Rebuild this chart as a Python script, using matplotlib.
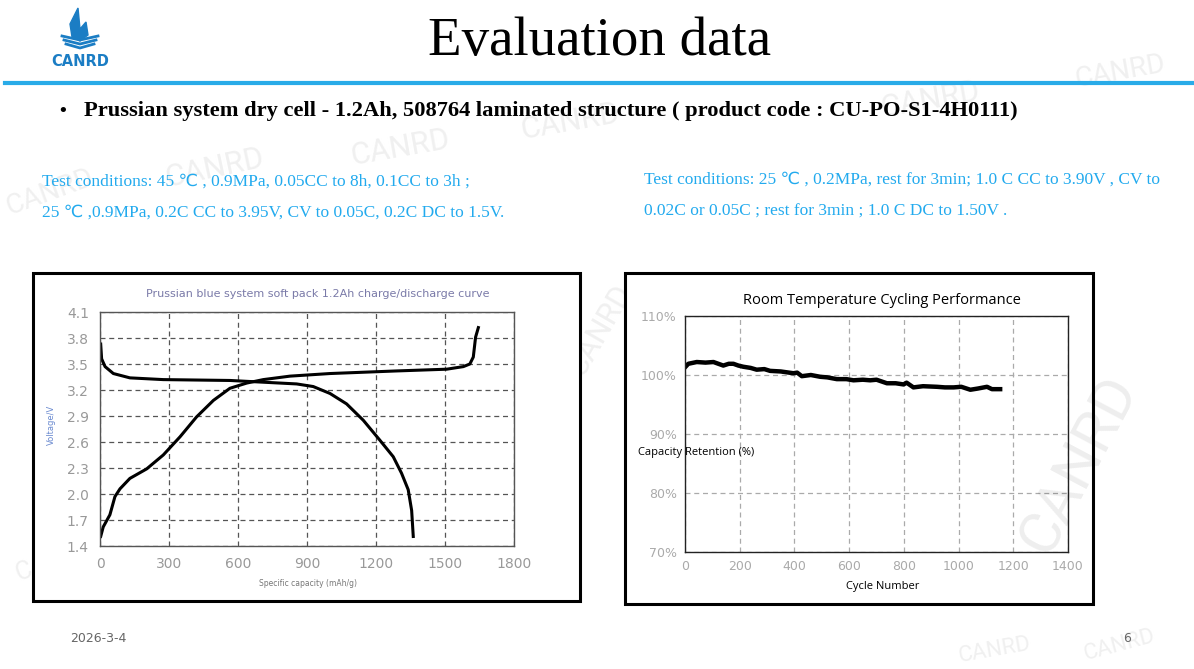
import numpy as np
import matplotlib.pyplot as plt
from matplotlib.patches import Rectangle, Polygon

# ---------------- data ----------------
charge_cap = [3, 14, 43, 65, 87, 130, 203, 275, 348, 420, 493, 565, 638, 710, 826,
              1000, 1290, 1507, 1580, 1608, 1623, 1633, 1645]
charge_v = [1.51, 1.62, 1.76, 1.97, 2.06, 2.18, 2.29, 2.45, 2.66, 2.89, 3.08, 3.22,
            3.28, 3.32, 3.36, 3.39, 3.42, 3.44, 3.47, 3.50, 3.58, 3.81, 3.92]
discharge_cap = [3, 7, 22, 58, 130, 275, 565, 710, 855, 927, 1000, 1072, 1145, 1217,
                 1275, 1311, 1340, 1355, 1362]
discharge_v = [3.73, 3.56, 3.47, 3.39, 3.34, 3.32, 3.31, 3.29, 3.27, 3.24, 3.16, 3.04,
               2.85, 2.62, 2.43, 2.24, 2.05, 1.81, 1.51]

cycles = [2, 12, 43, 75, 104, 128, 140, 160, 177, 195, 213, 240, 262, 290, 311, 350,
          396, 410, 427, 460, 494, 520, 555, 590, 616, 650, 677, 700, 738, 770, 799,
          810, 835, 870, 921, 950, 982, 1010, 1043, 1070, 1104, 1122, 1152]
retention = [101.4, 101.9, 102.2, 102.1, 102.2, 101.8, 101.6, 101.9, 101.9, 101.6,
             101.4, 101.2, 100.9, 101.0, 100.7, 100.6, 100.3, 100.4, 99.8, 100.0, 99.7,
             99.6, 99.3, 99.3, 99.1, 99.2, 99.1, 99.2, 98.6, 98.6, 98.4, 98.7, 97.9,
             98.1, 98.0, 97.9, 97.9, 98.0, 97.5, 97.7, 98.0, 97.6, 97.6]

v_ticks = [1.4, 1.7, 2.0, 2.3, 2.6, 2.9, 3.2, 3.5, 3.8, 4.1]
cap_ticks = [0, 300, 600, 900, 1200, 1500, 1800]
cyc_ticks = [0, 200, 400, 600, 800, 1000, 1200, 1400]
ret_ticks = [70, 80, 90, 100, 110]

W, H = 1194, 669
BLUE = '#22aaee'
SERIF = ['Liberation Serif', 'DejaVu Sans']


def box(x0, y0, x1, y1):
    # pixel box (top-left origin) -> figure fraction rect
    return [x0 / W, 1 - y1 / H, (x1 - x0) / W, (y1 - y0) / H]


def fx(x):
    return x / W


def fy(y):
    return 1 - y / H


fig = plt.figure(figsize=(W / 100, H / 100), dpi=100)
fig.patch.set_facecolor('white')

# watermarks
wm = [(215, 168, 12, 22), (400, 148, 10, 22), (570, 122, 10, 22), (50, 192, 20, 20),
      (1120, 72, 10, 20), (930, 100, 10, 22), (995, 650, 10, 16),
      (1120, 645, 15, 16), (55, 560, 20, 18), (600, 330, 60, 22)]
for x, y, r, s in wm:
    fig.text(fx(x), fy(y), 'CANRD', fontsize=s, color='#f0f0f0', rotation=r,
             ha='center', va='center', family='Roboto', zorder=0)
# big watermark over the right chart
fig.text(fx(1080), fy(465), 'CANRD', fontsize=42, color='#000000', alpha=0.07,
         rotation=62, ha='center', va='center', family='Roboto', zorder=5)

# header
fig.text(fx(600), fy(42), 'Evaluation data', fontsize=39.5, family=SERIF,
         ha='center', va='center')
fig.add_artist(plt.Line2D([fx(5), fx(1194)], [fy(83), fy(83)], color='#29abe8', lw=3))
fig.text(fx(80), fy(62), 'CANRD', fontsize=10.5, weight='bold', color='#1b7dc4',
         ha='center', va='center', family='DejaVu Sans')
# simple logo flame
fig.add_artist(Polygon([(fx(78), fy(8)), (fx(70), fy(24)), (fx(72), fy(37)), (fx(80), fy(41)),
                        (fx(88), fy(35)), (fx(86), fy(22)), (fx(80), fy(29))],
                       closed=True, color='#1b7dc4', transform=fig.transFigure))
for i, yy in enumerate([40, 44, 48]):
    fig.add_artist(plt.Line2D([fx(62 + i * 2), fx(80), fx(98 - i * 2)],
                              [fy(yy - 4), fy(yy), fy(yy - 4)], color='#1b7dc4', lw=2))

fig.text(fx(57), fy(111), '•', fontsize=13, ha='left', va='center')
fig.text(fx(84), fy(111), 'Prussian system dry cell - 1.2Ah, 508764 laminated structure ( product code : CU-PO-S1-4H0111)',
         fontsize=16.2, weight='bold', family=SERIF, ha='left', va='center')

fig.text(fx(42), fy(182), 'Test conditions: 45 \u2103 , 0.9MPa, 0.05CC to 8h, 0.1CC to 3h ;',
         fontsize=12.5, color=BLUE, family=SERIF, ha='left', va='center')
fig.text(fx(42), fy(213), '25 \u2103 ,0.9MPa, 0.2C CC to 3.95V, CV to 0.05C, 0.2C DC to 1.5V.',
         fontsize=12.5, color=BLUE, family=SERIF, ha='left', va='center')
fig.text(fx(644), fy(180), 'Test conditions: 25 \u2103 , 0.2MPa, rest for 3min; 1.0 C CC to 3.90V , CV to',
         fontsize=12.5, color=BLUE, family=SERIF, ha='left', va='center')
fig.text(fx(644), fy(212), '0.02C or 0.05C ; rest for 3min ; 1.0 C DC to 1.50V .',
         fontsize=12.5, color=BLUE, family=SERIF, ha='left', va='center')

fig.text(fx(70), fy(638), '2026-3-4', fontsize=9, color='#666666', ha='left', va='center')
fig.text(fx(1127), fy(638), '6', fontsize=9, color='#666666', ha='center', va='center')

# outer frames (white inside, covering the watermarks)
for x0, y0, x1, y1 in [(33, 273, 580, 601), (625, 273, 1093, 604)]:
    fig.add_artist(Rectangle((fx(x0), fy(y1)), fx(x1 - x0), (y1 - y0) / H, fc='white',
                             ec='black', lw=2.2, transform=fig.transFigure, zorder=0.5))

# ---- left chart: charge / discharge ----
ax1 = fig.add_axes(box(100, 312, 514, 546))
ax1.set_zorder(1)
ax1.plot(charge_cap, charge_v, color='black', lw=2.2)
ax1.plot(discharge_cap, discharge_v, color='black', lw=2.2)
ax1.set_xlim(0, 1800)
ax1.set_ylim(1.4, 4.1)
ax1.set_xticks(cap_ticks)
ax1.set_yticks(v_ticks)
ax1.set_yticklabels(['%.1f' % v for v in v_ticks])
ax1.grid(True, ls=(0, (4, 3)), color='#555555', lw=0.9)
ax1.tick_params(length=0, labelsize=10, labelcolor='#999999', pad=8)
for s in ax1.spines.values():
    s.set_color('#555555')
    s.set_linewidth(1)
fig.text(fx(318), fy(294), 'Prussian blue system soft pack 1.2Ah charge/discharge curve',
         fontsize=8, color='#7a7aa8', ha='center', va='center')
fig.text(fx(51), fy(425), 'Voltage/V', fontsize=6, color='#6a8ad0', rotation=90,
         ha='center', va='center')
fig.text(fx(308), fy(584), 'Specific capacity (mAh/g)', fontsize=5.5, color='#777777',
         ha='center', va='center')

# ---- right chart: cycling ----
ax2 = fig.add_axes(box(685, 316, 1068, 552))
ax2.set_zorder(1)
ax2.plot(cycles, retention, color='black', lw=3.2)
ax2.set_xlim(0, 1400)
ax2.set_ylim(70, 110)
ax2.set_xticks(cyc_ticks)
ax2.set_yticks(ret_ticks)
ax2.set_yticklabels(['%d%%' % v for v in ret_ticks])
ax2.grid(True, ls=(0, (4, 3)), color='#aaaaaa', lw=0.9)
ax2.tick_params(length=0, labelsize=9, labelcolor='#aaaaaa', pad=6)
for s in ax2.spines.values():
    s.set_color('#222222')
    s.set_linewidth(1)
fig.text(fx(882), fy(300), 'Room Temperature Cycling Performance', fontsize=10.5,
         ha='center', va='center', family='Open Sans')
fig.text(fx(638), fy(453), 'Capacity Retention (%)', fontsize=8, ha='left', va='center',
         family='Open Sans', zorder=3)
fig.text(fx(883), fy(587), 'Cycle Number', fontsize=8, ha='center', va='center',
         family='Open Sans')

fig.savefig('out.png', dpi=100)
